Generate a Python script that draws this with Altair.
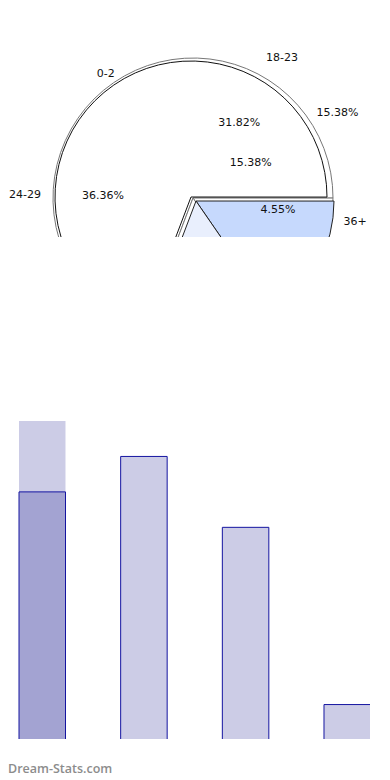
import math
import altair as alt
import pandas as pd

# ---------------- data ----------------
# age-group pie (labels only partly visible, pie is cut by the frame)
age_groups = ["18-23", "36+", "30-35", "24-29"]
age_counts = [7, 1, 6, 8]
age_pct = ["31.82%", "4.55%", "27.27%", "36.36%"]

# second (overlaid) pie whose slices are the visible shapes
tenure_groups = ["0-2", "3-5", "6+"]
tenure_counts = [9, 2, 2]
tenure_pct = ["69.23%", "15.38%", "15.38%"]

# bar chart
bar_groups = ["18-23", "24-29", "30-35", "36+"]
bar_counts = [7, 8, 6, 1]
highlight_group = "18-23"
Y_MAX = 9

watermark = ["Dream-Stats.com"]

pie_a = pd.DataFrame({"group": age_groups, "count": age_counts,
                      "pct": age_pct, "idx": list(range(len(age_groups)))})
pie_b = pd.DataFrame({"group": tenure_groups, "count": tenure_counts,
                      "pct": tenure_pct, "idx": list(range(len(tenure_groups)))})
bars = pd.DataFrame({"group": bar_groups, "count": bar_counts})
wm = pd.DataFrame({"t": watermark})

# ---------------- style / geometry ----------------
deg = math.pi / 180
TAU = 2 * math.pi
A0 = 336 * deg      # start angle of age pie
B0 = 200.8 * deg    # start angle of second pie
WX, WY = 183, 189   # centre of white slice
BX, BY = 188, 193   # centre of exploded blue slices
SX, SY = 185, 190   # shadow copy centre
R = 136
FONT = "DejaVu Sans"
TXT = "#111111"

b_theta = alt.Theta("count:Q", stack=True, scale=alt.Scale(range=[B0, B0 + TAU]))
b_order = alt.Order("idx:Q")
b_fill = alt.Fill("group:N", legend=None,
                  scale=alt.Scale(domain=tenure_groups,
                                  range=["#ffffff", "#c6d9fd", "#e9effd"]))
base_b = alt.Chart(pie_b)

shadow = base_b.mark_arc(radius=R + 4, fill="#ffffff", stroke="#777777",
                         strokeWidth=1, clip=True).encode(
    theta=b_theta, order=b_order, x=alt.value(SX), y=alt.value(SY))

white = base_b.mark_arc(radius=R, stroke="#111111", strokeWidth=1, clip=True).encode(
    theta=b_theta, order=b_order, fill=b_fill,
    opacity=alt.condition(alt.datum.idx == 0, alt.value(1), alt.value(0)),
    x=alt.value(WX), y=alt.value(WY))

blue = base_b.mark_arc(radius=R + 2, stroke="#222222", strokeWidth=1, clip=True).encode(
    theta=b_theta, order=b_order, fill=b_fill,
    opacity=alt.condition(alt.datum.idx == 0, alt.value(0), alt.value(1)),
    x=alt.value(BX), y=alt.value(BY))

b_names = base_b.mark_text(radius=150, font=FONT, fontSize=11, color=TXT, clip=True).encode(
    theta=b_theta, order=b_order, text="group:N", x=alt.value(WX), y=alt.value(WY))

b_pct_in = base_b.transform_filter(alt.datum.idx == 1).mark_text(
    theta=60 * deg, radius=69, font=FONT, fontSize=11, color=TXT, clip=True).encode(
    text="pct:N", x=alt.value(WX), y=alt.value(WY))
b_pct_out = base_b.transform_filter(alt.datum.idx == 2).mark_text(
    theta=60 * deg, radius=169, font=FONT, fontSize=11, color=TXT, clip=True).encode(
    text="pct:N", x=alt.value(WX), y=alt.value(WY))

a_theta = alt.Theta("count:Q", stack=True, scale=alt.Scale(range=[A0, A0 + TAU]))
a_order = alt.Order("idx:Q")
base_a = alt.Chart(pie_a)
a_names = base_a.mark_text(radius=166, font=FONT, fontSize=11, color=TXT, clip=True).encode(
    theta=a_theta, order=a_order, text="group:N", x=alt.value(WX), y=alt.value(WY))
a_pct = base_a.mark_text(radius=88, font=FONT, fontSize=11, color=TXT, clip=True).encode(
    theta=a_theta, order=a_order, text="pct:N", x=alt.value(WX), y=alt.value(WY))

pie = alt.layer(shadow, white, blue, b_names, b_pct_in, b_pct_out, a_names, a_pct
                ).resolve_scale(theta="independent").properties(width=374, height=229)

# ---------------- bars ----------------
x_enc = alt.X("group:N", sort=bar_groups, axis=None,
              scale=alt.Scale(domain=bar_groups, range=[11, 362.5],
                              paddingInner=0.5426, paddingOuter=0))
y_scale = alt.Scale(domain=[0, Y_MAX], range=[322, 3])

hl = alt.Chart(bars).transform_filter(alt.datum.group == highlight_group).transform_calculate(
    top=str(Y_MAX), bottom="0").mark_bar(fill="#000080", fillOpacity=0.2, clip=True).encode(
    x=x_enc, y=alt.Y("top:Q", scale=y_scale, axis=None), y2="bottom:Q")

bar_l = alt.Chart(bars).mark_bar(fill="#000080", fillOpacity=0.2, stroke="#1414a0",
                                 strokeWidth=1, clip=True).encode(
    x=x_enc, y=alt.Y("count:Q", scale=y_scale, axis=None))

wm_l = alt.Chart(wm).mark_text(align="left", baseline="alphabetic", font="Open Sans",
                               fontSize=12.5, fontWeight=600, color="#8c8c8c").encode(
    text="t:N", x=alt.value(0), y=alt.value(355))

bar_chart = alt.layer(hl, bar_l, wm_l).properties(width=362, height=321)

chart = alt.vconcat(pie, bar_chart, spacing=181).properties(
    padding=0, background="#ffffff").configure_view(stroke=None)

chart.save("out.html", embed_options={"renderer": "svg", "actions": False})
